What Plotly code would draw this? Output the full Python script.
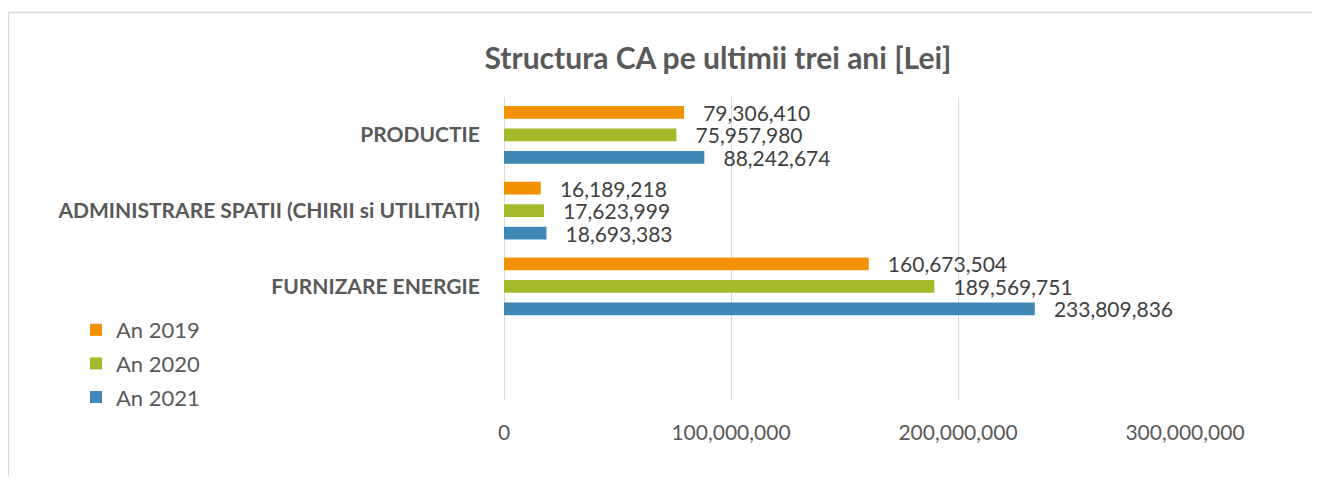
import plotly.graph_objects as go

categories = ["PRODUCTIE", "ADMINISTRARE SPATII (CHIRII si UTILITATI)", "FURNIZARE ENERGIE"]
axis_categories = categories + [" "]
series_names = ["An 2019", "An 2020", "An 2021"]
values_2019 = [79306410, 16189218, 160673504]
values_2020 = [75957980, 17623999, 189569751]
values_2021 = [88242674, 18693383, 233809836]
x_ticks = [0, 100000000, 200000000, 300000000]
colors = ["#F39200", "#A5B92A", "#3F88B5"]

FONT = "Lato"
PAD = "\u00a0\u00a0\u00a0"
fig = go.Figure()
for name, vals, col in zip(series_names, [values_2019, values_2020, values_2021], colors):
    fig.add_trace(go.Bar(
        y=categories, x=vals, name=name, orientation="h",
        marker=dict(color=col, line=dict(width=0)),
        texttemplate=PAD + "%{x:,}", textposition="outside", constraintext="none",
        textfont=dict(family=FONT, size=21, color="#404040"),
        cliponaxis=False, legendgroup=name,
    ))

# page has an 8px body margin, so the figure is laid out 8px in from the window edge
OFF = 8
W, H = 1320 - 2 * OFF, 484 - 2 * OFF
L, R, T, B = 504 - OFF, 1185 - OFF, 97 - OFF, 400 - OFF
pw, ph = R - L, B - T

fig.update_layout(
    width=W, height=H,
    margin=dict(l=L, r=W - R, t=T, b=H - B, autoexpand=False),
    paper_bgcolor="white", plot_bgcolor="white",
    barmode="group", bargap=0.11, bargroupgap=0.44,
    title=dict(text="<b>Structura CA pe ultimii trei ani [Lei]</b>",
               x=(718 - OFF) / W, xanchor="center", y=1 - (58 - OFF) / H, yanchor="middle",
               font=dict(family=FONT, size=30, color="#595959")),
    font=dict(family=FONT, color="#595959"),
    xaxis=dict(range=[0, 300000000], tickvals=x_ticks, tickformat=",",
               showgrid=True, gridcolor="#D9D9D9", gridwidth=1,
               zeroline=True, zerolinecolor="#D9D9D9", zerolinewidth=1,
               showline=False, ticks="outside", ticklen=14, tickcolor="rgba(0,0,0,0)",
               tickfont=dict(family=FONT, size=21, color="#595959")),
    yaxis=dict(categoryorder="array", categoryarray=axis_categories,
               range=[3.5, -0.5], showgrid=False, zeroline=False, showline=False,
               ticks="outside", ticklen=19, tickcolor="rgba(0,0,0,0)",
               tickfont=dict(family=FONT, size=21, color="#595959"),
               ticktext=["<b>" + c + "</b>" for c in axis_categories],
               tickvals=axis_categories),
    legend=dict(x=(68 - L) / pw, xanchor="left", y=(B - 301) / ph, yanchor="top",
                font=dict(family=FONT, size=22, color="#595959"),
                tracegroupgap=2, bgcolor="rgba(0,0,0,0)"),
    showlegend=True,
)

fig.add_shape(type="rect", xref="paper", yref="paper",
              x0=(0.5 - L) / pw, x1=(1400 - L) / pw,
              y0=(B - 600) / ph, y1=(B - 4.5) / ph,
              line=dict(color="#D9D9D9", width=1.3), fillcolor="rgba(0,0,0,0)", layer="below")

fig.write_html("out.html")
